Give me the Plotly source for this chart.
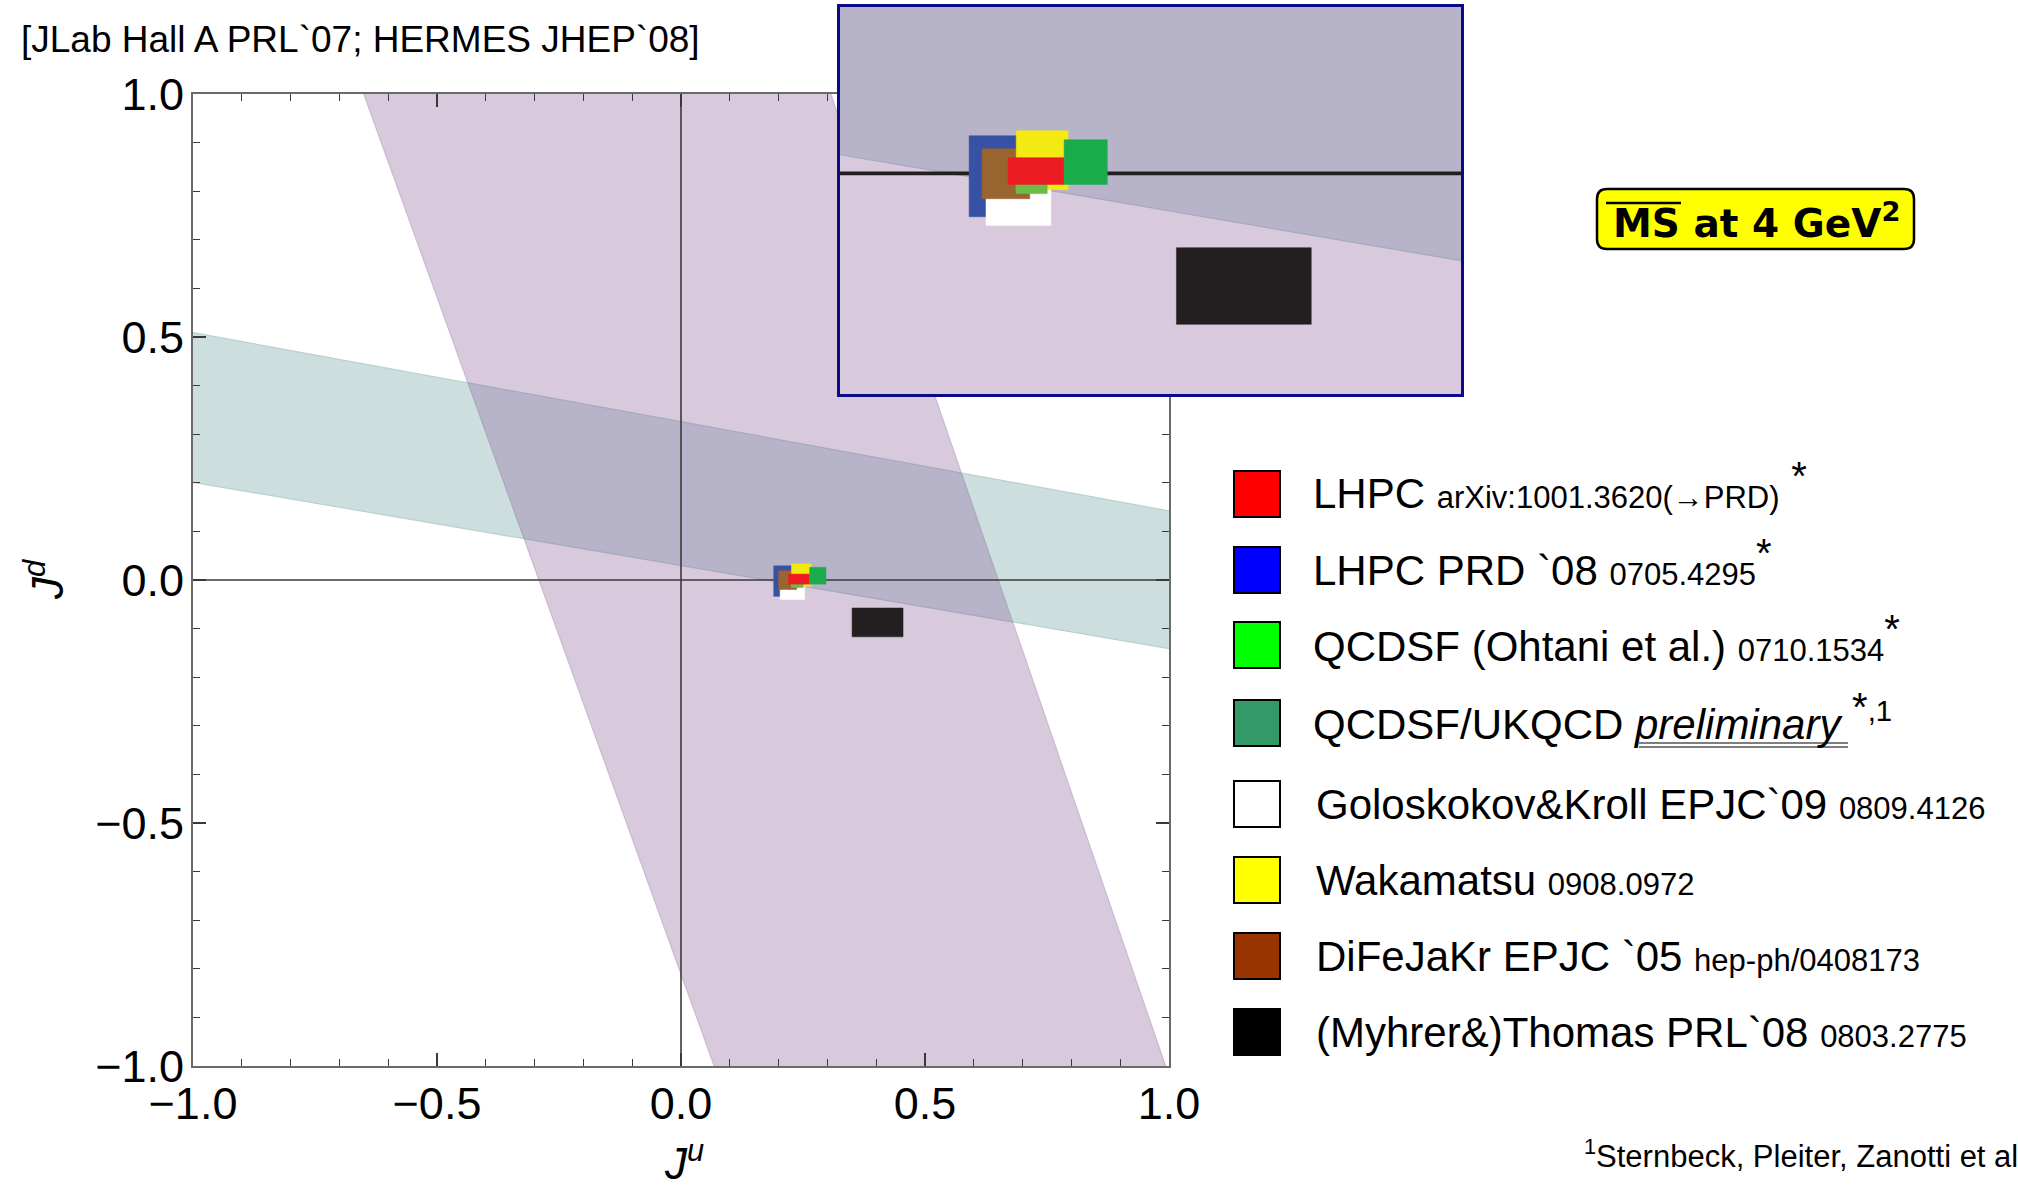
import plotly.graph_objects as go

W, H = 2018, 1188

# ---- experimental constraint bands --------------------------------------
# JLab Hall A band, edges written as  Ju = a + b * Jd
jlab_edge_a = [-0.291, 0.650]
jlab_edge_b = [-0.359, -0.343]
# HERMES band, edges written as  Jd = c + d * Ju
hermes_edge_c = [0.030, 0.3256]
hermes_edge_d = [-0.171, -0.1834]

# ---- model / lattice results (Ju, Jd boxes) -----------------------------
labels = [
    "LHPC",
    "LHPC PRD `08",
    "QCDSF (Ohtani et al.)",
    "QCDSF/UKQCD",
    "Goloskokov&Kroll EPJC`09",
    "Wakamatsu",
    "DiFeJaKr EPJC `05",
    "(Myhrer&)Thomas PRL`08",
]
refs = [
    "arXiv:1001.3620(→PRD)",
    "0705.4295",
    "0710.1534",
    "",
    "0809.4126",
    "0908.0972",
    "hep-ph/0408173",
    "0803.2775",
]
ju_lo = [0.2202, 0.190, 0.2265, 0.2636, 0.2031, 0.2265, 0.200, 0.3506]
ju_hi = [0.2636, 0.232, 0.2505, 0.2970, 0.2534, 0.2667, 0.237, 0.4550]
jd_lo = [-0.0085, -0.0336, -0.0157, -0.0085, -0.0403, -0.0126, -0.0196, -0.1170]
jd_hi = [0.0122, 0.0292, 0.0050, 0.0261, -0.0050, 0.0331, 0.0191, -0.0576]
box_colors = ["#ed1c24", "#3752a5", "#6cbd45", "#1aab4b", "#ffffff", "#f3ea13", "#986530", "#231f20"]
key_colors = ["#ff0000", "#0000ff", "#00ff00", "#339966", "#ffffff", "#ffff00", "#993300", "#000000"]
# drawing order of the boxes (bottom -> top)
draw_order = [1, 4, 6, 5, 2, 0, 3, 7]

# axis ticks
major_ticks = [-1.0, -0.5, 0.0, 0.5, 1.0]

PURPLE = "#d8c9dd"
TEAL = "#cddede"
OVERLAP = "#b7b3c8"
FONT = "Liberation Sans, Arial, sans-serif"

# layout geometry (pixels)
MAIN_X = (193, 1169)
MAIN_Y = (94, 1066)
INSET_X = (840, 1461)
INSET_Y = (7, 394)
inset_ju_range = [0.090, 0.571]
inset_jd_range = [-0.171, 0.129]


def px(x):
    return x / W


def py(y):
    return 1 - y / H


def jlab_polygon(span=1.5):
    ys = [-span, span]
    left = [jlab_edge_a[0] + jlab_edge_b[0] * y for y in ys]
    right = [jlab_edge_a[1] + jlab_edge_b[1] * y for y in ys]
    return list(zip(left + right[::-1], ys + ys[::-1]))


def hermes_polygon(span=1.5):
    xs = [-span, span]
    lower = [hermes_edge_c[0] + hermes_edge_d[0] * x for x in xs]
    upper = [hermes_edge_c[1] + hermes_edge_d[1] * x for x in xs]
    return list(zip(xs + xs[::-1], lower + upper[::-1]))


def clip(poly, f):
    out = []
    n = len(poly)
    for i in range(n):
        p, q = poly[i], poly[(i + 1) % n]
        fp, fq = f(*p), f(*q)
        if fp >= 0:
            out.append(p)
        if fp * fq < 0:
            t = fp / (fp - fq)
            out.append((p[0] + t * (q[0] - p[0]), p[1] + t * (q[1] - p[1])))
    return out


def overlap_polygon():
    poly = hermes_polygon()
    poly = clip(poly, lambda x, y: x - (jlab_edge_a[0] + jlab_edge_b[0] * y))
    poly = clip(poly, lambda x, y: (jlab_edge_a[1] + jlab_edge_b[1] * y) - x)
    return poly


def closed(poly):
    xs = [p[0] for p in poly] + [poly[0][0]]
    ys = [p[1] for p in poly] + [poly[0][1]]
    return xs, ys


fig = go.Figure()


def add_panel(xa, ya, zero_lines, zero_width, zero_color):
    for poly, fillc, linec in [
        (jlab_polygon(), PURPLE, "#cbb9d1"),
        (hermes_polygon(), TEAL, "#b9d0d0"),
        (overlap_polygon(), OVERLAP, "#aaa8bf"),
    ]:
        xs, ys = closed(poly)
        fig.add_trace(go.Scatter(
            x=xs, y=ys, mode="lines", fill="toself", fillcolor=fillc,
            line=dict(color=linec, width=1.2), xaxis=xa, yaxis=ya,
            hoverinfo="skip", showlegend=False))
    for xs, ys in zero_lines:
        fig.add_trace(go.Scatter(
            x=xs, y=ys, mode="lines", line=dict(color=zero_color, width=zero_width),
            xaxis=xa, yaxis=ya, hoverinfo="skip", showlegend=False))
    for i in draw_order:
        fig.add_trace(go.Scatter(
            x=[ju_lo[i], ju_hi[i], ju_hi[i], ju_lo[i], ju_lo[i]],
            y=[jd_lo[i], jd_lo[i], jd_hi[i], jd_hi[i], jd_lo[i]],
            mode="lines", fill="toself", fillcolor=box_colors[i],
            line=dict(color=box_colors[i], width=0.5), xaxis=xa, yaxis=ya,
            name=labels[i], hoverinfo="name", showlegend=False))


add_panel("x", "y", [([-1, 1], [0, 0]), ([0, 0], [-1, 1])], 1.6, "#3a3a3a")
add_panel("x2", "y2", [(inset_ju_range, [0, 0])], 3.6, "#231f20")

axis_common = dict(
    range=[-1, 1], tickvals=major_ticks, tickformat=".1f",
    ticks="inside", ticklen=13, tickwidth=1.6, tickcolor="#3a3a3a",
    minor=dict(dtick=0.1, ticks="inside", ticklen=7, tickwidth=1.3, tickcolor="#3a3a3a"),
    showline=True, linecolor="#6a6a6a", linewidth=2, mirror="allticks",
    showgrid=False, zeroline=False, automargin=False, fixedrange=True,
)

fig.update_layout(
    width=W, height=H,
    margin=dict(l=0, r=0, t=0, b=0),
    paper_bgcolor="white", plot_bgcolor="rgba(0,0,0,0)",
    showlegend=False,
    xaxis=dict(axis_common, domain=[px(MAIN_X[0]), px(MAIN_X[1])], anchor="y",
               tickfont=dict(family=FONT, size=45, color="black"), ticklabelstandoff=-3),
    yaxis=dict(axis_common, domain=[py(MAIN_Y[1]), py(MAIN_Y[0])], anchor="x",
               tickfont=dict(family=FONT, size=45, color="black"), ticklabelstandoff=-2),
    xaxis2=dict(domain=[px(INSET_X[0]), px(INSET_X[1])], anchor="y2", range=inset_ju_range,
                showticklabels=False, ticks="", showgrid=False, zeroline=False,
                showline=True, linecolor="#0b0b8a", linewidth=3, mirror=True,
                automargin=False, fixedrange=True),
    yaxis2=dict(domain=[py(INSET_Y[1]), py(INSET_Y[0])], anchor="x2", range=inset_jd_range,
                showticklabels=False, ticks="", showgrid=False, zeroline=False,
                showline=True, linecolor="#0b0b8a", linewidth=3, mirror=True,
                automargin=False, fixedrange=True),
)

annotations = []
shapes = []


def note(text, x, y, size, xanchor="left", yanchor="middle", family=FONT, angle=0):
    annotations.append(dict(
        text=text, x=px(x), y=py(y), xref="paper", yref="paper",
        xanchor=xanchor, yanchor=yanchor, showarrow=False, textangle=angle,
        font=dict(family=family, size=size, color="black")))


note("[JLab Hall A PRL`07; HERMES JHEP`08]", 19, 40, 37)
note("<i>J</i><sup><i>d</i></sup>", 44, 580, 44, xanchor="center", angle=-90)
note("<i>J</i><sup><i>u</i></sup>", 684, 1160, 44, xanchor="center")
note("<sup>1</sup>Sternbeck, Pleiter, Zanotti et al", 2020, 1154, 31, xanchor="right")

# MS-bar scheme tag
bx0, bx1, by0, by1, r = 1597, 1914, 189, 249, 10
rx, ry = r / W, r / H
X0, X1, Y0, Y1 = px(bx0), px(bx1), py(by1), py(by0)
shapes.append(dict(
    type="path", xref="paper", yref="paper",
    path=(f"M {X0+rx},{Y0} L {X1-rx},{Y0} Q {X1},{Y0} {X1},{Y0+ry} "
          f"L {X1},{Y1-ry} Q {X1},{Y1} {X1-rx},{Y1} L {X0+rx},{Y1} "
          f"Q {X0},{Y1} {X0},{Y1-ry} L {X0},{Y0+ry} Q {X0},{Y0} {X0+rx},{Y0} Z"),
    fillcolor="#ffff00", line=dict(color="black", width=2.5), layer="above"))
note("<b>MS at 4 GeV<sup>2</sup></b>", 1756, 221, 39, xanchor="center", family="DejaVu Sans, Verdana, sans-serif")
shapes.append(dict(type="line", xref="paper", yref="paper",
                   x0=px(1606), x1=px(1681), y0=py(203), y1=py(203),
                   line=dict(color="black", width=2.5)))

# legend keys and entries
STAR = "<sup><span style='font-size:40px'>*</span></sup>"
row_y = [494, 570, 645, 723, 804, 880, 956, 1032]
# entries carrying a raised asterisk get a taller line box; shift them back up
text_shift = [9, 7, 7, 6, 0, 0, 0, 0]
legend_text = [
    "LHPC <span style='font-size:31px'>arXiv:1001.3620(→PRD)</span> " + STAR,
    "LHPC PRD `08 <span style='font-size:31px'>0705.4295</span>" + STAR,
    "QCDSF (Ohtani et al.) <span style='font-size:31px'>0710.1534</span>" + STAR,
    "QCDSF/UKQCD <i>preliminary</i> <sup><span style='font-size:40px'>*</span>,1</sup>",
    "Goloskokov&Kroll EPJC`09 <span style='font-size:31px'>0809.4126</span>",
    "Wakamatsu <span style='font-size:31px'>0908.0972</span>",
    "DiFeJaKr EPJC `05 <span style='font-size:31px'>hep-ph/0408173</span>",
    "(Myhrer&)Thomas PRL`08 <span style='font-size:31px'>0803.2775</span>",
]
for k, (yc, txt) in enumerate(zip(row_y, legend_text)):
    shapes.append(dict(type="rect", xref="paper", yref="paper",
                       x0=px(1234), x1=px(1280), y0=py(yc + 23), y1=py(yc - 23),
                       fillcolor=key_colors[k], line=dict(color="black", width=2)))
    note(txt, 1311 if k < 4 else 1314, yc - text_shift[k], 42)

# double underline under "preliminary"
for uy in (743, 747):
    shapes.append(dict(type="line", xref="paper", yref="paper",
                       x0=px(1639), x1=px(1848), y0=py(uy), y1=py(uy),
                       line=dict(color="#555555", width=1.3)))

fig.update_layout(annotations=annotations, shapes=shapes)
fig.write_html("out.html")
